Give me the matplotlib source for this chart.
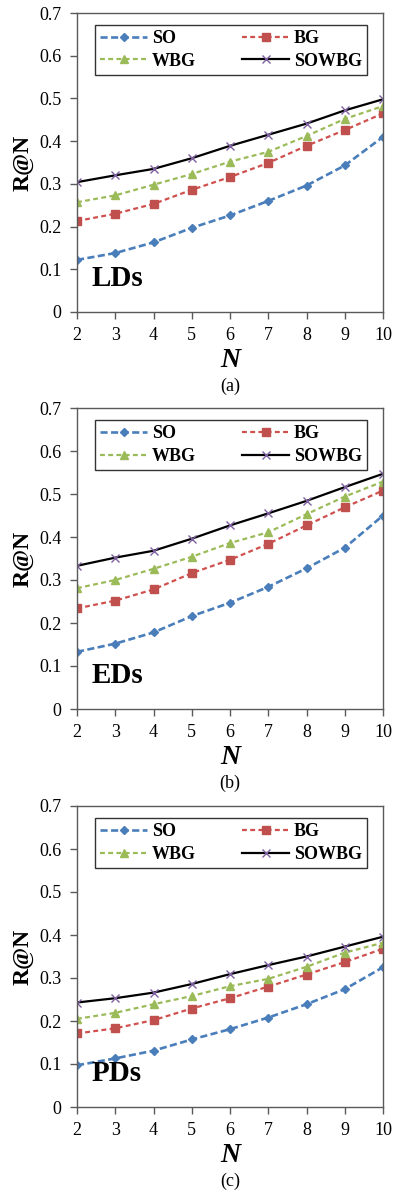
import matplotlib
matplotlib.use("Agg")
import matplotlib.pyplot as plt

N = [2, 3, 4, 5, 6, 7, 8, 9, 10]
series_names = ["SO", "BG", "WBG", "SOWBG"]
panel_labels = ["LDs", "EDs", "PDs"]
captions = ["(a)", "(b)", "(c)"]
yticks = [0, 0.1, 0.2, 0.3, 0.4, 0.5, 0.6, 0.7]
ytick_labels = ["0", "0.1", "0.2", "0.3", "0.4", "0.5", "0.6", "0.7"]

# LDs
ld_so = [0.122, 0.138, 0.163, 0.197, 0.226, 0.260, 0.296, 0.343, 0.410]
ld_bg = [0.213, 0.230, 0.253, 0.286, 0.316, 0.349, 0.389, 0.426, 0.465]
ld_wbg = [0.257, 0.273, 0.298, 0.323, 0.352, 0.375, 0.412, 0.452, 0.482]
ld_sowbg = [0.304, 0.320, 0.335, 0.360, 0.389, 0.415, 0.441, 0.472, 0.498]
# EDs
ed_so = [0.133, 0.152, 0.178, 0.216, 0.247, 0.284, 0.327, 0.375, 0.450]
ed_bg = [0.234, 0.252, 0.278, 0.316, 0.347, 0.384, 0.427, 0.469, 0.508]
ed_wbg = [0.281, 0.300, 0.326, 0.354, 0.386, 0.411, 0.453, 0.494, 0.529]
ed_sowbg = [0.333, 0.352, 0.368, 0.396, 0.427, 0.455, 0.484, 0.516, 0.547]
# PDs
pd_so = [0.097, 0.113, 0.131, 0.157, 0.181, 0.208, 0.239, 0.274, 0.325]
pd_bg = [0.171, 0.183, 0.202, 0.229, 0.253, 0.280, 0.308, 0.337, 0.368]
pd_wbg = [0.205, 0.219, 0.239, 0.258, 0.281, 0.298, 0.326, 0.359, 0.382]
pd_sowbg = [0.243, 0.253, 0.266, 0.286, 0.309, 0.330, 0.350, 0.373, 0.396]

panels = [
    [ld_so, ld_bg, ld_wbg, ld_sowbg],
    [ed_so, ed_bg, ed_wbg, ed_sowbg],
    [pd_so, pd_bg, pd_wbg, pd_sowbg],
]

styles = [
    dict(color="#4A7EBB", marker="D", markersize=4.5, linestyle=(0, (2.7, 1.3)), linewidth=1.9,
         markerfacecolor="#4A7EBB", markeredgecolor="#4A7EBB"),
    dict(color="#D0504D", marker="s", markersize=5.5, linestyle=(0, (2.2, 1.5)), linewidth=1.6,
         markerfacecolor="#C0504D", markeredgecolor="#C0504D"),
    dict(color="#9BBB59", marker="^", markersize=6, linestyle=(0, (2.2, 1.5)), linewidth=1.6,
         markerfacecolor="#9BBB59", markeredgecolor="#9BBB59"),
    dict(color="black", marker="x", markersize=6, linestyle="-", linewidth=1.6,
         markerfacecolor="#7F60A0", markeredgecolor="#7F60A0", markeredgewidth=1.0),
]

plt.rcParams["font.family"] = ["Liberation Serif", "DejaVu Serif"]

fig = plt.figure(figsize=(3.98, 11.92), dpi=100)
left = 77 / 398
width = (383 - 77) / 398
tops = [13, 408, 806]
bottoms = [312, 709, 1107]

spine_col = "#5a5a5a"
for i in range(3):
    b = 1 - bottoms[i] / 1192
    h = (bottoms[i] - tops[i]) / 1192
    ax = fig.add_axes([left, b, width, h])
    lines = []
    for data, name, st in zip(panels[i], series_names, styles):
        ln, = ax.plot(N, data, label=name, **st)
        lines.append(ln)
    ax.set_xlim(2, 10)
    ax.set_ylim(0, 0.7)
    ax.set_xticks(N)
    ax.set_yticks(yticks)
    ax.set_yticklabels(ytick_labels)
    ax.tick_params(axis="both", direction="out", length=5, width=1, color=spine_col,
                   labelsize=13, pad=6)
    for s in ax.spines.values():
        s.set_color(spine_col)
        s.set_linewidth(1.0)
    ax.set_ylabel("R@N", fontsize=17, fontweight="bold", labelpad=4)
    ax.set_xlabel("N", fontsize=20, fontweight="bold", fontstyle="italic", labelpad=3)
    ax.text(2.39, 0.060, panel_labels[i], fontsize=21, fontweight="bold",
            ha="left", va="baseline")
    order = [0, 2, 1, 3]
    leg = ax.legend([lines[k] for k in order], [series_names[k] for k in order],
                    ncol=2, loc="upper left", bbox_to_anchor=(0.059, 0.96, 0.889, 0),
                    mode="expand", frameon=True, fancybox=False, edgecolor="black",
                    prop=dict(weight="bold", size=13), handlelength=2.6,
                    handletextpad=0.25, columnspacing=1.0, borderpad=0.3,
                    labelspacing=0.3, borderaxespad=0)
    leg.get_frame().set_linewidth(1.0)
    fig.text(left + width / 2, 1 - (bottoms[i] + 74) / 1192, captions[i],
             ha="center", va="center", fontsize=13)

fig.savefig("out.png", dpi=100)
